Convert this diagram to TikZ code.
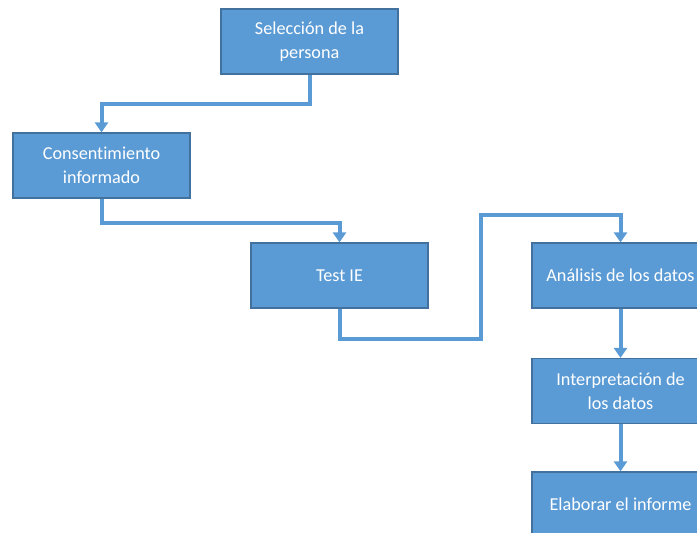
\documentclass[tikz,border=0pt]{standalone}
\usepackage{fontspec}
\setmainfont[Ligatures=NoCommon]{Carlito}
\usetikzlibrary{arrows.meta}
\definecolor{boxblue}{HTML}{5B9BD5}
\definecolor{boxedge}{HTML}{41719C}
\begin{document}
\begin{tikzpicture}[x=1pt,y=-1pt,
  stepbox/.style={draw=boxedge, line width=1.2pt, fill=boxblue,
    minimum width=177pt, minimum height=65pt, inner sep=0pt,
    text=white, font=\fontsize{18.2}{23.5}\selectfont,
    align=center},
  flow/.style={draw=boxblue, line width=4pt,
    -{Triangle[width=13pt,length=10pt]}}]
\useasboundingbox (0,0) rectangle (697,533);
\clip (0,0) rectangle (697,533);
% process steps
\node[stepbox] (sel) at (309.5,41.5)  {Selección de la\\persona};
\node[stepbox] (con) at (101.5,165.5) {Consentimiento\\informado};
\node[stepbox] (tst) at (339.5,275.5) {Test IE};
\node[stepbox] (ana) at (620.5,275.5) {Análisis de los datos};
\node[stepbox] (int) at (620.5,391)   {Interpretación de\\los datos};
\node[stepbox] (ela) at (620.5,504.5) {Elaborar el informe};
% connectors
\draw[flow] (sel.south) -- ++(0,29) -| (con.north);
\draw[flow] (con.south) -- ++(0,24) -| (tst.north);
\draw[flow] (tst.south) -- ++(0,30) -- ++(141.5,0) -- ++(0,-124) -| (ana.north);
\draw[flow] (ana.south) -- (int.north);
\draw[flow] (int.south) -- (ela.north);
\end{tikzpicture}
\end{document}
